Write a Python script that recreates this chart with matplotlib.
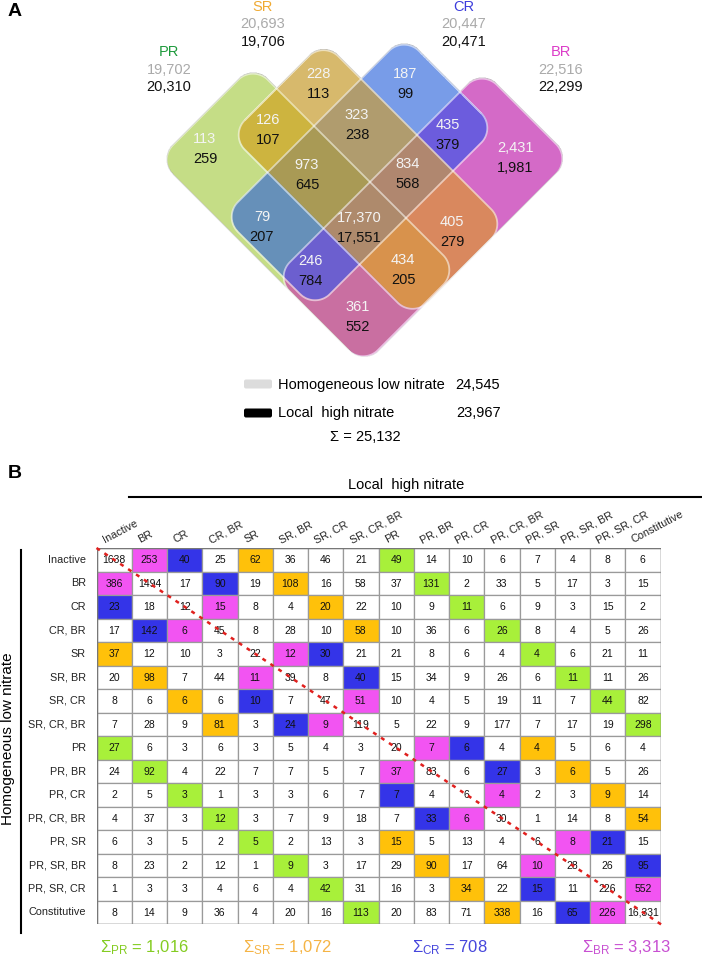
import numpy as np
import matplotlib
matplotlib.use("Agg")
import matplotlib.pyplot as plt
from matplotlib.patches import Rectangle, FancyBboxPatch

plt.rcParams['font.family'] = ['Liberation Sans', 'DejaVu Sans']
plt.rcParams['mathtext.fontset'] = 'custom'
plt.rcParams['mathtext.rm'] = 'Liberation Sans'
plt.rcParams['mathtext.it'] = 'Liberation Sans:italic'
plt.rcParams['mathtext.bf'] = 'Liberation Sans:bold'

# ---- panel A data ----
set_names = ['PR', 'SR', 'CR', 'BR']
set_homog = [19702, 20693, 20447, 22516]
set_local = [20310, 19706, 20471, 22299]

region_keys = ['PR', 'SR', 'CR', 'BR', 'PR SR', 'SR CR', 'CR BR', 'PR SR CR',
               'SR CR BR', 'PR CR', 'PR SR CR BR', 'SR BR', 'PR CR BR',
               'PR SR BR', 'PR BR']
region_homog = [113, 228, 187, 2431, 126, 323, 435, 973, 834, 79, 17370,
                405, 246, 434, 361]
region_local = [259, 113, 99, 1981, 107, 238, 379, 645, 568, 207, 17551,
                279, 784, 205, 552]

total_homog = 24545
total_local = 23967
total_union = 25132

# ---- panel B data ----
state_labels = ['Inactive', 'BR', 'CR', 'CR, BR', 'SR', 'SR, BR', 'SR, CR',
                'SR, CR, BR', 'PR', 'PR, BR', 'PR, CR', 'PR, CR, BR', 'PR, SR',
                'PR, SR, BR', 'PR, SR, CR', 'Constitutive']
transitions = [
    [1638, 253, 40, 25, 62, 36, 46, 21, 49, 14, 10, 6, 7, 4, 8, 6],
    [386, 1494, 17, 90, 19, 108, 16, 58, 37, 131, 2, 33, 5, 17, 3, 15],
    [23, 18, 12, 15, 8, 4, 20, 22, 10, 9, 11, 6, 9, 3, 15, 2],
    [17, 142, 6, 45, 8, 28, 10, 58, 10, 36, 6, 26, 8, 4, 5, 26],
    [37, 12, 10, 3, 22, 12, 30, 21, 21, 8, 6, 4, 4, 6, 21, 11],
    [20, 98, 7, 44, 11, 39, 8, 40, 15, 34, 9, 26, 6, 11, 11, 26],
    [8, 6, 6, 6, 10, 7, 47, 51, 10, 4, 5, 19, 11, 7, 44, 82],
    [7, 28, 9, 81, 3, 24, 9, 119, 5, 22, 9, 177, 7, 17, 19, 298],
    [27, 6, 3, 6, 3, 5, 4, 3, 20, 7, 6, 4, 4, 5, 6, 4],
    [24, 92, 4, 22, 7, 7, 5, 7, 37, 83, 6, 27, 3, 6, 5, 26],
    [2, 5, 3, 1, 3, 3, 6, 7, 7, 4, 6, 4, 2, 3, 9, 14],
    [4, 37, 3, 12, 3, 7, 9, 18, 7, 33, 6, 30, 1, 14, 8, 54],
    [6, 3, 5, 2, 5, 2, 13, 3, 15, 5, 13, 4, 6, 8, 21, 15],
    [8, 23, 2, 12, 1, 9, 3, 17, 29, 90, 17, 64, 10, 28, 26, 95],
    [1, 3, 3, 4, 6, 4, 42, 31, 16, 3, 34, 22, 15, 11, 226, 552],
    [8, 14, 9, 36, 4, 20, 16, 113, 20, 83, 71, 338, 16, 65, 226, 16331],
]
sigma_names = ['PR', 'SR', 'CR', 'BR']
sigma_values = [1016, 1072, 708, 3313]

# ---- styles / layout ----
set_colors = {'PR': '#1E9A3C', 'SR': '#F0AA32', 'CR': '#3C3CDC', 'BR': '#DC3CC8'}
sigma_colors = {'PR': '#84CC22', 'SR': '#F5B445', 'CR': '#4646DC', 'BR': '#C850D2'}
cell_colors = {8: '#A8F03A', 4: '#FFC10A', 2: '#3434E8', 1: '#F254F2'}
bit = {'PR': 8, 'SR': 4, 'CR': 2, 'BR': 1}

# shapes in rotated pixel frame: s = x + y, t = y - x
shape_box = {'PR': ((318, 728), (-188, 2)),
             'SR': ((365, 730), (-282, -95)),
             'CR': ((440, 624), (-368, -6)),
             'BR': ((552, 730), (-412, 2))}
corner_r = 21

region_colors = {
    'PR': '#C6DD86', 'SR': '#D7BA6C', 'CR': '#799DE8', 'BR': '#D56AC7',
    'PR SR': '#CDB43F', 'SR CR': '#B09D6F', 'CR BR': '#6D5CDE',
    'PR SR CR': '#A99B56', 'SR CR BR': '#B08770', 'PR CR': '#6690BA',
    'PR SR CR BR': '#AE8A6C', 'SR BR': '#D9885F', 'PR CR BR': '#6D60CF',
    'PR SR BR': '#D8924C', 'PR BR': '#C970A2'}
label_pos = {
    'PR': (205, 149), 'SR': (318, 84), 'CR': (405, 84), 'BR': (515, 158),
    'PR SR': (268, 130), 'SR CR': (357, 125), 'CR BR': (448, 135),
    'PR SR CR': (307, 175), 'SR CR BR': (408, 174), 'PR CR': (262, 227),
    'PR SR CR BR': (359, 228), 'SR BR': (452, 232), 'PR CR BR': (310, 271),
    'PR SR BR': (403, 270), 'PR BR': (358, 317)}
set_label_pos = {'PR': (169, 52), 'SR': (263, 7), 'CR': (464, 7), 'BR': (561, 52)}

SQ2 = np.sqrt(2)


def box_sdf(x, y, s_rng, t_rng, r):
    u = (x + y) / SQ2
    v = (y - x) / SQ2
    u0, u1 = s_rng[0] / SQ2, s_rng[1] / SQ2
    v0, v1 = t_rng[0] / SQ2, t_rng[1] / SQ2
    qu = np.abs(u - (u0 + u1) / 2) - ((u1 - u0) / 2 - r)
    qv = np.abs(v - (v0 + v1) / 2) - ((v1 - v0) / 2 - r)
    out = np.hypot(np.maximum(qu, 0), np.maximum(qv, 0))
    ins = np.minimum(np.maximum(qu, qv), 0)
    return out + ins - r


fig = plt.figure(figsize=(7.02, 9.63), dpi=100)
ax = fig.add_axes([0, 0, 1, 1])
ax.set_xlim(0, 702)
ax.set_ylim(963, 0)
ax.axis('off')

# ---- Venn ----
xs = np.arange(130, 610, 0.5)
ys = np.arange(25, 390, 0.5)
X, Y = np.meshgrid(xs, ys)
dists = {n: box_sdf(X, Y, *shape_box[n], corner_r) for n in set_names}
code = np.zeros(X.shape, dtype=int)
for n in set_names:
    code += (dists[n] < 0) * bit[n]
img = np.zeros(X.shape + (4,))
for key in region_keys:
    c = sum(bit[p] for p in key.split())
    img[code == c] = matplotlib.colors.to_rgba(region_colors[key])
ax.imshow(img, extent=(xs[0], xs[-1], ys[-1], ys[0]), origin='upper',
          interpolation='bilinear', aspect='auto', zorder=1)
for n in set_names:
    ax.contour(X, Y, dists[n], levels=[0], colors='white', alpha=0.55,
               linewidths=1.3, zorder=2)
ax.set_xlim(0, 702)
ax.set_ylim(963, 0)

for key, h, l in zip(region_keys, region_homog, region_local):
    x, y = label_pos[key]
    ax.text(x, y - 10, f'{h:,}', color='#F4F4F4', fontsize=10.5,
            ha='center', va='center', zorder=3)
    ax.text(x, y + 10, f'{l:,}', color='#111111', fontsize=10.5,
            ha='center', va='center', zorder=3)

for n, h, l in zip(set_names, set_homog, set_local):
    x, y = set_label_pos[n]
    ax.text(x, y, n, color=set_colors[n], fontsize=10.5, ha='center', va='center')
    ax.text(x, y + 17.5, f'{h:,}', color='#AAAAAA', fontsize=10.5, ha='center', va='center')
    ax.text(x, y + 35, f'{l:,}', color='#111111', fontsize=10.5, ha='center', va='center')

ax.text(8, 12, 'A', fontsize=14, fontweight='bold', ha='left', va='center')

# legend
ax.add_patch(FancyBboxPatch((245, 380.5), 26, 7, boxstyle='round,pad=1,rounding_size=2',
                            facecolor='#DCDCDC', edgecolor='none'))
ax.add_patch(FancyBboxPatch((245, 409.5), 26, 7, boxstyle='round,pad=1,rounding_size=2',
                            facecolor='black', edgecolor='none'))
ax.text(278, 385, 'Homogeneous low nitrate', fontsize=10.5, ha='left', va='center')
ax.text(455, 385, f'{total_homog:,}', fontsize=10.5, ha='left', va='center')
ax.text(278, 413, 'Local  high nitrate', fontsize=10.5, ha='left', va='center')
ax.text(456, 413, f'{total_local:,}', fontsize=10.5, ha='left', va='center')
ax.text(365, 437, f'Σ = {total_union:,}', fontsize=10.5, ha='center', va='center')

# ---- panel B ----
ax.text(8, 473, 'B', fontsize=14, fontweight='bold', ha='left', va='center')
ax.text(406, 485, 'Local  high nitrate', fontsize=10.5, ha='center', va='center')
ax.plot([129, 702], [497, 497], color='black', lw=1.5)
ax.plot([21, 21], [550, 933], color='black', lw=1.5)
ax.text(8, 739, 'Homogeneous low nitrate', fontsize=11, rotation=90,
        ha='center', va='center')

n = len(state_labels)
axt = fig.add_axes([96.5 / 702, 1 - 924 / 963, 564 / 702, 376 / 963])
axt.set_xlim(0, n)
axt.set_ylim(n, 0)
axt.axis('off')
for i in range(n):
    for j in range(n):
        d = i ^ j
        fc = cell_colors.get(d, 'white')
        axt.add_patch(Rectangle((j, i), 1, 1, facecolor=fc, edgecolor='#9A9A9A',
                                lw=0.9))
        v = transitions[i][j]
        axt.text(j + 0.5, i + 0.52, f'{v:,}' if v >= 10000 else str(v),
                 fontsize=7.5, ha='center', va='center', color='#111111')
axt.add_patch(Rectangle((0, 0), n, n, facecolor='none', edgecolor='#777777', lw=1))
for k, lab in enumerate(state_labels):
    axt.text(-0.3, k + 0.5, lab, fontsize=7.8, ha='right', va='center', color='#222222')
    axt.text(k + 0.27, -0.13, lab, fontsize=7.8, rotation=28, rotation_mode='anchor',
             ha='left', va='bottom', color='#222222')
axt.plot([0, n + 0.05], [0, n + 0.05], color='#E0201E', lw=1.8,
         linestyle=(0, (1.6, 2.2)), clip_on=False, zorder=5)

sigma_x = [100, 243, 412, 582]
for name, val, x in zip(sigma_names, sigma_values, sigma_x):
    ax.text(x, 948, r'$\Sigma_{\mathrm{' + name + '}}$' + f' = {val:,}',
            fontsize=12, color=sigma_colors[name], ha='left', va='center')

fig.savefig('out.png', dpi=100)
